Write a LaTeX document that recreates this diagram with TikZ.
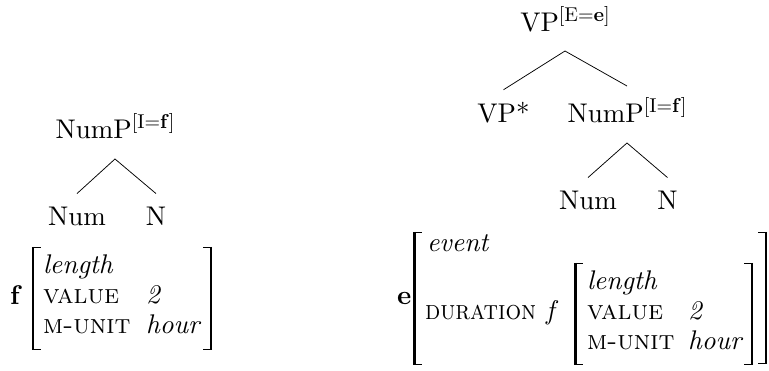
\documentclass[tikz,border=0pt]{standalone}
\usepackage{fontspec}
\setmainfont{lmroman10-regular.otf}[
  BoldFont=lmroman10-bold.otf,
  ItalicFont=lmroman10-italic.otf,
  BoldItalicFont=lmroman10-bolditalic.otf,
  SmallCapsFont=lmromancaps10-regular.otf]
\usetikzlibrary{calc}
\newcommand\AvmBracket[4]{%
  \draw[brk] (#1,#2) -- (#1,#3);
  \draw[hook] ({#1-1.1*(#4)},{#2+0.45}) -- ++({9*(#4)},0);
  \draw[hook] ({#1-1.1*(#4)},{#3-0.45}) -- ++({9*(#4)},0);
}
\newcommand\Feat[1]{\raisebox{10pt}{\fontsize{20}{20}\selectfont #1}}
\begin{document}
\begin{tikzpicture}[x=1pt,y=-1pt,
  lbl/.style={inner sep=0pt, outer sep=0pt, anchor=base, font=\fontsize{27}{32}\selectfont},
  txt/.style={inner sep=0pt, outer sep=0pt, anchor=base west, font=\fontsize{27}{32}\selectfont},
  branch/.style={line width=0.75pt},
  brk/.style={line width=2.2pt},
  hook/.style={line width=0.9pt}]
\useasboundingbox (0,0) rectangle (769,371);

% left tree
\node[lbl] (lnp) at (115,139) {NumP\Feat{[I=\textbf{f}]}};
\node[lbl] (lnum) at (77,226) {Num};
\node[lbl] (ln) at (156,226) {N};
\coordinate (la) at ($(lnp.base)+(0,20)$);
\draw[branch] ($(lnum.north)+(0,-14)$) -- (la) -- ($(ln.north)+(0,-14)$);

% left AVM
\node[txt] (lf) at (10,305) {\textbf{f}};
\node[txt] (l1) at (43,274) {\textit{length}};
\node[txt] (l2) at (43,304) {\textsc{value}};
\node[txt] (l2v) at (146,304) {\textit{2}};
\node[txt] (l3) at (43,334) {\textsc{m-unit}};
\node[txt] (l3v) at (146,334) {\textit{hour}};
\AvmBracket{33}{247}{350}{1}
\AvmBracket{211}{247}{350}{-1}

% right tree
\node[lbl] (vp) at (565,32) {VP\Feat{[E=\textbf{e}]}};
\node[lbl] (vps) at (503.5,123) {VP*};
\node[lbl] (rnp) at (627,123) {NumP\Feat{[I=\textbf{f}]}};
\node[lbl] (rnum) at (588,210) {Num};
\node[lbl] (rn) at (667.5,210) {N};
\coordinate (va) at ($(vp.base)+(0,19)$);
\draw[branch] ($(vps.north)+(0,-13)$) -- (va) -- ($(rnp.north)+(0,-12)$);
\coordinate (ra) at ($(rnp.base)+(0,20)$);
\draw[branch] ($(rnum.north)+(0,-14)$) -- (ra) -- ($(rn.north)+(0,-14)$);

% right AVM
\node[txt] (re) at (397,305) {\textbf{e}};
\node[txt] (rev) at (427,252) {\textit{event}};
\node[txt] (rdur) at (425,320) {\scalebox{0.91}[1]{\textsc{duration}}};
\node[txt] (rf) at (546,320) {\textit{f}};
\node[txt] (r1) at (587,290) {\textit{length}};
\node[txt] (r2) at (587,320) {\textsc{value}};
\node[txt] (r2v) at (688,320) {\textit{2}};
\node[txt] (r3) at (587,350) {\textsc{m-unit}};
\node[txt] (r3v) at (688,350) {\textit{hour}};
\AvmBracket{414.5}{232}{365}{1}
\AvmBracket{766}{232}{364}{-1}
\AvmBracket{575.5}{263}{365}{1}
\AvmBracket{752}{263}{365}{-1}
\end{tikzpicture}
\end{document}
